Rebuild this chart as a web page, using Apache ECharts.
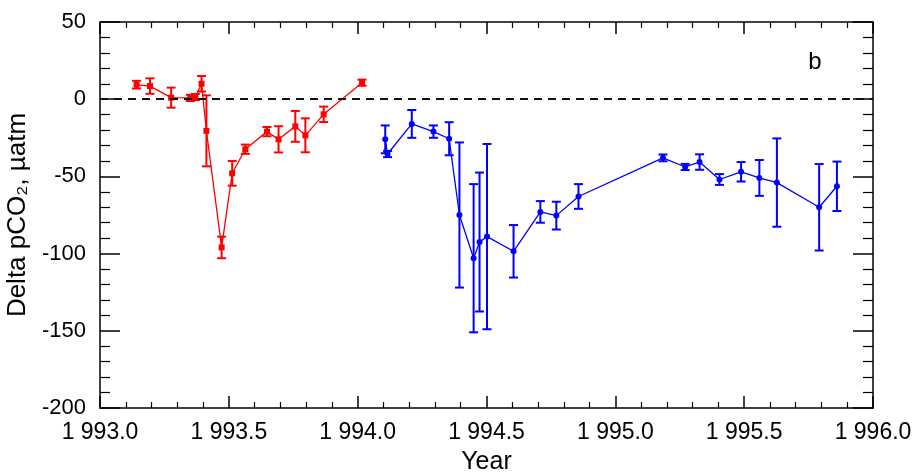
<!DOCTYPE html>
<html><head><meta charset="utf-8">
<script src="https://cdn.jsdelivr.net/npm/echarts@6/dist/echarts.min.js"></script>
<style>html,body{margin:0;padding:0;background:#fff}#c{width:912px;height:474px}</style>
</head><body><div id="c"></div>
<script>
const redYears  = [1993.142, 1993.194, 1993.276, 1993.351, 1993.370, 1993.394, 1993.413, 1993.472, 1993.513, 1993.564, 1993.648, 1993.693, 1993.758, 1993.797, 1993.868, 1994.017];
const redValues = [9.4, 8.5, 1.0, 0.8, 1.4, 10.0, -20.5, -96.0, -48.0, -32.4, -21.0, -26.0, -17.6, -23.4, -9.8, 10.7];
const redErrors = [2.5, 5.0, 6.5, 2.0, 2.0, 5.0, 23.0, 7.0, 8.0, 3.0, 3.0, 8.5, 10.0, 11.0, 5.0, 2.0];

const blueYears  = [1994.107, 1994.116, 1994.210, 1994.294, 1994.355, 1994.395, 1994.450, 1994.473, 1994.502, 1994.605, 1994.709, 1994.771, 1994.857, 1995.185, 1995.271, 1995.327, 1995.404, 1995.488, 1995.559, 1995.627, 1995.791, 1995.860];
const blueValues = [-26.0, -35.5, -16.0, -21.0, -25.6, -75.0, -103.0, -92.5, -89.0, -98.5, -73.0, -75.4, -63.0, -38.0, -43.9, -40.7, -52.0, -47.0, -51.0, -54.0, -70.0, -56.4];
const blueErrors = [9.0, 2.0, 9.0, 4.0, 10.7, 47.0, 48.0, 45.0, 60.0, 17.0, 7.0, 9.0, 8.0, 2.2, 2.0, 5.0, 3.5, 6.3, 11.6, 28.6, 28.0, 16.0];

const xMin = 1993.0, xMax = 1996.0, xStep = 0.5;
const yMin = -200, yMax = 50, yStep = 50;
const xTitle = 'Year';
const yTitle = 'Delta pCO\u2082, \u00b5atm';
const panelLabel = 'b';

const FONT = 'Liberation Sans';

function errData(xs, vs, es) { return xs.map((x, i) => [x, vs[i] - es[i], vs[i] + es[i]]); }
function ptData(xs, vs) { return xs.map((x, i) => [x, vs[i]]); }
function errRender(color) {
  return function (params, api) {
    const x = api.value(0), lo = api.value(1), hi = api.value(2);
    const p1 = api.coord([x, hi]), p2 = api.coord([x, lo]);
    const hw = 4.5;
    const style = { stroke: color, lineWidth: 2, fill: null };
    return { type: 'group', children: [
      { type: 'line', shape: { x1: p1[0], y1: p1[1], x2: p2[0], y2: p2[1] }, style: style },
      { type: 'line', shape: { x1: p1[0] - hw, y1: p1[1], x2: p1[0] + hw, y2: p1[1] }, style: style },
      { type: 'line', shape: { x1: p2[0] - hw, y1: p2[1], x2: p2[0] + hw, y2: p2[1] }, style: style }
    ]};
  };
}

const axisLine = { show: true, onZero: false, lineStyle: { color: '#000', width: 1.5 } };
const chart = echarts.init(document.getElementById('c'), null, { renderer: 'canvas' });
chart.setOption({
  animation: false,
  backgroundColor: '#fff',
  textStyle: { fontFamily: FONT },
  grid: { left: 100, right: 39, top: 22, bottom: 66, containLabel: false, outerBoundsMode: 'none' },
  graphic: [{ type: 'text', x: 815, y: 62, style: { text: panelLabel, font: '24px "Liberation Sans"', fill: '#000', align: 'center', verticalAlign: 'middle' } }],
  xAxis: [
    { type: 'value', min: xMin, max: xMax, interval: xStep, position: 'bottom',
      axisLine: axisLine, splitLine: { show: false },
      axisTick: { inside: true, length: 12, lineStyle: { color: '#000', width: 1.5 } },
      minorTick: { show: true, splitNumber: 5, length: 6, lineStyle: { color: '#000', width: 1.2 } },
      axisLabel: { color: '#000', fontSize: 23, fontFamily: FONT, margin: 13,
        formatter: v => '1 ' + (v - 1000).toFixed(1) },
      name: xTitle, nameLocation: 'middle', nameGap: 42,
      nameTextStyle: { color: '#000', fontSize: 25, fontFamily: FONT } },
    { type: 'value', min: xMin, max: xMax, interval: xStep, position: 'top',
      axisLine: axisLine, splitLine: { show: false },
      axisTick: { inside: true, length: 12, lineStyle: { color: '#000', width: 1.5 } },
      minorTick: { show: true, splitNumber: 5, length: 6, lineStyle: { color: '#000', width: 1.2 } },
      axisLabel: { show: false } }
  ],
  yAxis: [
    { type: 'value', min: yMin, max: yMax, interval: yStep, position: 'left',
      axisLine: axisLine, splitLine: { show: false },
      axisTick: { inside: true, length: 20, lineStyle: { color: '#000', width: 1.5 } },
      minorTick: { show: true, splitNumber: 5, length: 10, lineStyle: { color: '#000', width: 1.2 } },
      axisLabel: { color: '#000', fontSize: 22, fontFamily: FONT, margin: 14 },
      name: yTitle, nameLocation: 'middle', nameGap: 60, nameRotate: 90,
      nameTextStyle: { color: '#000', fontSize: 26, fontFamily: FONT } },
    { type: 'value', min: yMin, max: yMax, interval: yStep, position: 'right',
      axisLine: axisLine, splitLine: { show: false },
      axisTick: { inside: true, length: 20, lineStyle: { color: '#000', width: 1.5 } },
      minorTick: { show: true, splitNumber: 5, length: 10, lineStyle: { color: '#000', width: 1.2 } },
      axisLabel: { show: false } }
  ],
  series: [
    { type: 'line', data: [], silent: true,
      markLine: { silent: true, symbol: 'none', label: { show: false },
        lineStyle: { color: '#111', width: 2, type: [8, 6] }, data: [{ yAxis: 0 }] } },
    { type: 'custom', renderItem: errRender('#ff0000'), data: errData(redYears, redValues, redErrors),
      encode: { x: 0, y: [1, 2] }, silent: true, z: 3 },
    { type: 'line', data: ptData(redYears, redValues), symbol: 'rect', symbolSize: 6,
      itemStyle: { color: '#ff0000' }, lineStyle: { color: '#ff0000', width: 1.3 }, z: 4 },
    { type: 'custom', renderItem: errRender('#0000ff'), data: errData(blueYears, blueValues, blueErrors),
      encode: { x: 0, y: [1, 2] }, silent: true, z: 3 },
    { type: 'line', data: ptData(blueYears, blueValues), symbol: 'circle', symbolSize: 6,
      itemStyle: { color: '#0000ff' }, lineStyle: { color: '#0000ff', width: 1.3 }, z: 4 }
  ]
});
</script>
</body></html>
